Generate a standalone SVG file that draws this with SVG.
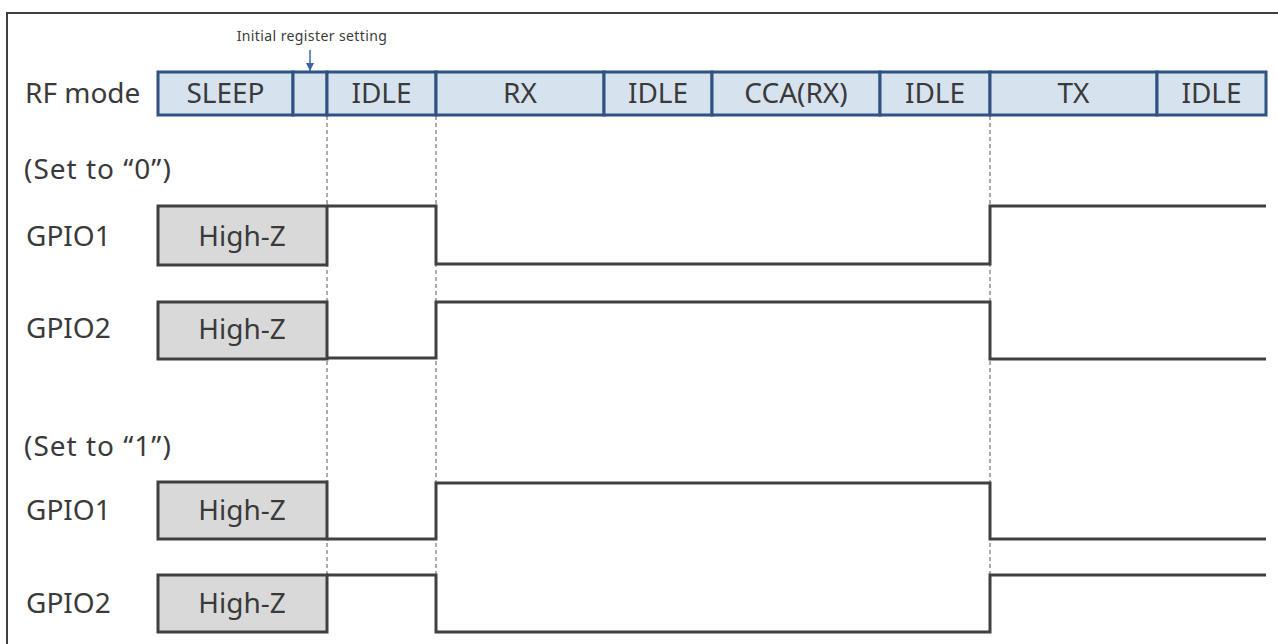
<svg xmlns="http://www.w3.org/2000/svg" width="1278" height="644" viewBox="0 0 1278 644">
<style>
text{font-family:"Noto Sans","DejaVu Sans",sans-serif;fill:#3a3a3a}
.lbl{font-size:28px}
.set{letter-spacing:1px}
.mid{text-anchor:middle}
.seg{fill:#d7e2ef;stroke:#2f5282;stroke-width:3}
.hz{fill:#d9d9d9;stroke:#404040;stroke-width:3}
.wave{fill:none;stroke:#404040;stroke-width:3;stroke-linejoin:miter}
.dash{stroke:#5a5a5a;stroke-width:1;stroke-dasharray:4 3}
</style>
<defs>
<marker id="ah" markerWidth="8" markerHeight="8" refX="8" refY="4" orient="auto" markerUnits="userSpaceOnUse" viewBox="0 0 8 8">
<path d="M0,0 L8,4 L0,8 Z" fill="#3a66a6"/>
</marker>
</defs>
<rect width="1278" height="644" fill="#ffffff"/>
<rect x="7" y="13" width="1300" height="660" fill="none" stroke="#404040" stroke-width="2"/>

<g id="connectors">
<line class="dash" x1="327" y1="116" x2="327" y2="575"/>
<line class="dash" x1="436" y1="116" x2="436" y2="575"/>
<line class="dash" x1="990" y1="116" x2="990" y2="575"/>
<line x1="310" y1="50" x2="310" y2="71" stroke="#3a66a6" stroke-width="1.5" marker-end="url(#ah)"/>
</g>

<g id="initial-label"><text x="312" y="41" class="mid" style="font-size:14px;letter-spacing:0.4px">Initial register setting</text></g>

<g id="rf-mode">
<text x="25" y="103" class="lbl">RF mode</text>
<rect class="seg" x="158" y="72" width="135" height="43"/>
<rect class="seg" x="293" y="72" width="34" height="43"/>
<rect class="seg" x="327" y="72" width="109" height="43"/>
<rect class="seg" x="436" y="72" width="168" height="43"/>
<rect class="seg" x="604" y="72" width="108" height="43"/>
<rect class="seg" x="712" y="72" width="168" height="43"/>
<rect class="seg" x="880" y="72" width="110" height="43"/>
<rect class="seg" x="990" y="72" width="167" height="43"/>
<rect class="seg" x="1157" y="72" width="109" height="43"/>
<text x="225.500" y="103" class="lbl mid">SLEEP</text>
<text x="381.500" y="103" class="lbl mid">IDLE</text>
<text x="520" y="103" class="lbl mid">RX</text>
<text x="658" y="103" class="lbl mid">IDLE</text>
<text x="796" y="103" class="lbl mid">CCA(RX)</text>
<text x="935" y="103" class="lbl mid">IDLE</text>
<text x="1073.500" y="103" class="lbl mid">TX</text>
<text x="1211.500" y="103" class="lbl mid">IDLE</text>
</g>

<g id="set0">
<text x="24" y="179" class="lbl set">(Set to “0”)</text>
</g>
<g id="set0-gpio1">
<text x="26" y="246" class="lbl">GPIO1</text>
<rect class="hz" x="158" y="206" width="169" height="59"/>
<text x="242" y="246" class="lbl mid">High-Z</text>
<path class="wave" d="M327,206 H436 V264 H990 V206 H1266"/>
</g>
<g id="set0-gpio2">
<text x="26" y="338" class="lbl">GPIO2</text>
<rect class="hz" x="158" y="302" width="169" height="57"/>
<text x="242" y="339" class="lbl mid">High-Z</text>
<path class="wave" d="M327,358 H436 V302 H990 V359 H1266"/>
</g>

<g id="set1">
<text x="24" y="456" class="lbl set">(Set to “1”)</text>
</g>
<g id="set1-gpio1">
<text x="26" y="520" class="lbl">GPIO1</text>
<rect class="hz" x="158" y="482" width="169" height="57"/>
<text x="242" y="520" class="lbl mid">High-Z</text>
<path class="wave" d="M327,539 H436 V483 H990 V539 H1266"/>
</g>
<g id="set1-gpio2">
<text x="26" y="613" class="lbl">GPIO2</text>
<rect class="hz" x="158" y="575" width="169" height="57"/>
<text x="242" y="613" class="lbl mid">High-Z</text>
<path class="wave" d="M327,575 H436 V632 H990 V575 H1266"/>
</g>
</svg>
